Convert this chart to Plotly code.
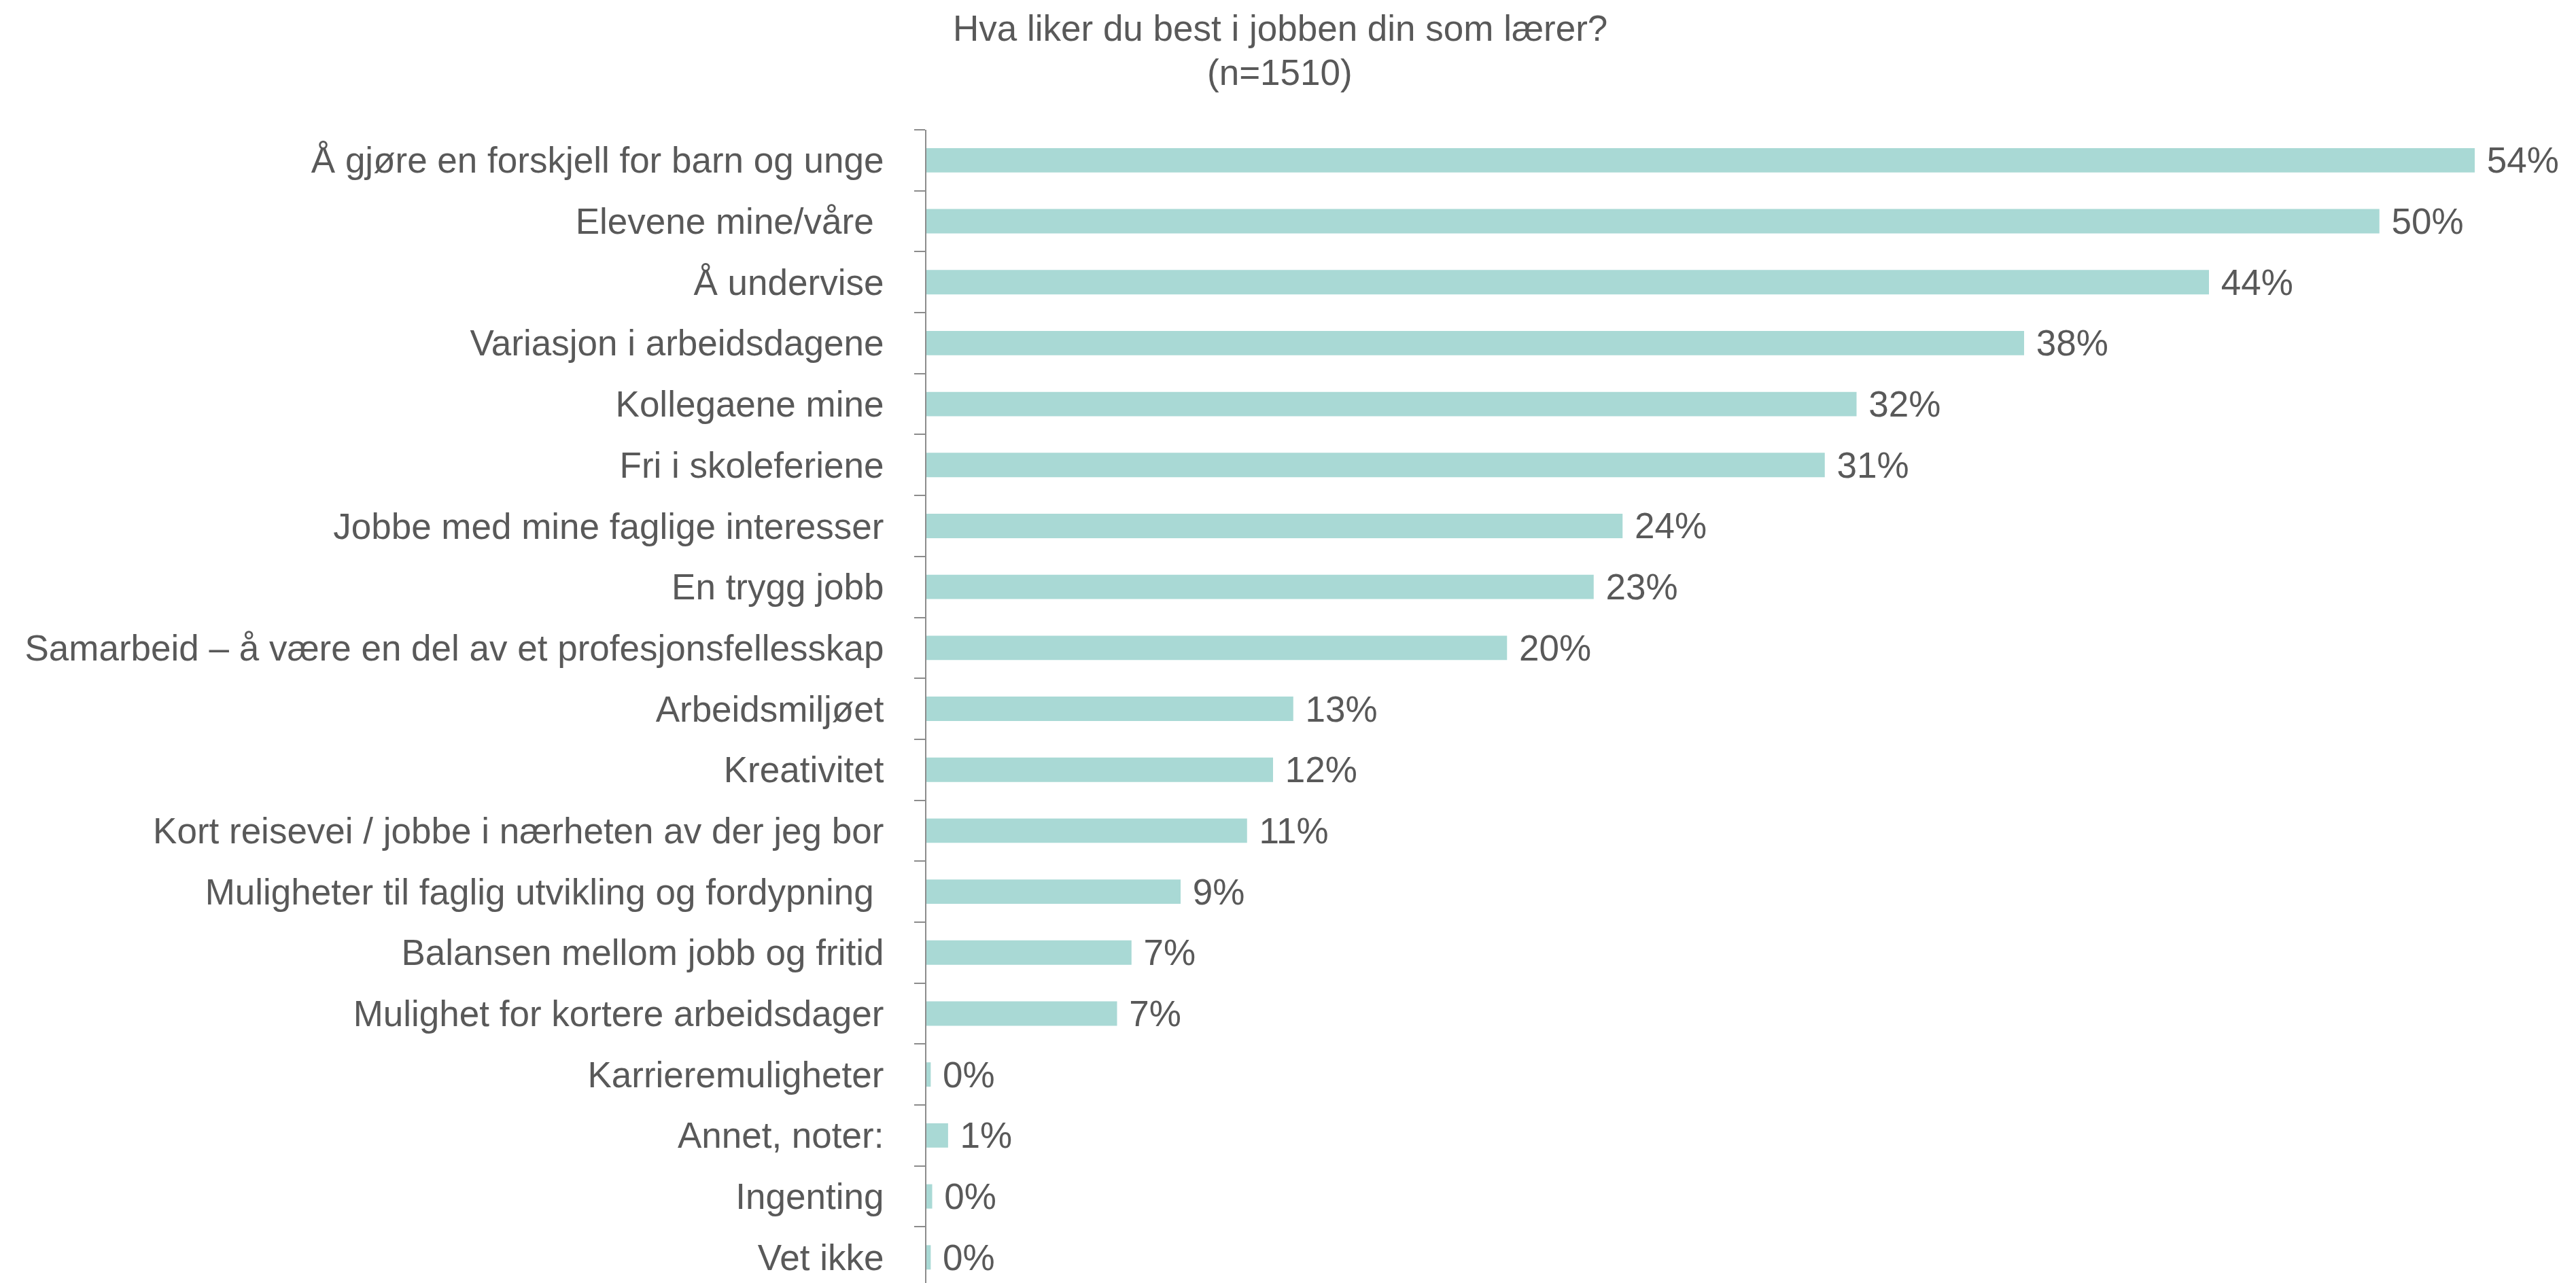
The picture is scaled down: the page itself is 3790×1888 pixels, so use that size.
import plotly.graph_objects as go

categories = [
    "Å gjøre en forskjell for barn og unge",
    "Elevene mine/våre ",
    "Å undervise",
    "Variasjon i arbeidsdagene",
    "Kollegaene mine",
    "Fri i skoleferiene",
    "Jobbe med mine faglige interesser",
    "En trygg jobb",
    "Samarbeid – å være en del av et profesjonsfellesskap",
    "Arbeidsmiljøet",
    "Kreativitet",
    "Kort reisevei / jobbe i nærheten av der jeg bor",
    "Muligheter til faglig utvikling og fordypning ",
    "Balansen mellom jobb og fritid",
    "Mulighet for kortere arbeidsdager",
    "Karrieremuligheter",
    "Annet, noter:",
    "Ingenting",
    "Vet ikke",
]
values = [53.6, 50.3, 44.4, 38.0, 32.2, 31.1, 24.1, 23.1, 20.1, 12.7, 12.0, 11.1,
          8.8, 7.1, 6.6, 0.15, 0.75, 0.2, 0.15]
value_labels = [f" {round(v):.0f}%" for v in values]
title_lines = ["Hva liker du best i jobben din som lærer?", "(n=1510)"]

TEXT = "#595959"
FONT = "Liberation Sans, Arial, sans-serif"
FS = 53

fig = go.Figure(go.Bar(
    x=values,
    y=categories,
    orientation="h",
    width=0.4,
    marker=dict(color="#A9D9D5", line=dict(width=0)),
    text=value_labels,
    textposition="outside",
    constraintext="none",
    textfont=dict(family=FONT, size=FS, color=TEXT),
    cliponaxis=False,
    hoverinfo="skip",
))

W, H = 3790, 1888
L = 1355
T = 183
fig.update_layout(
    width=W, height=H,
    paper_bgcolor="white", plot_bgcolor="white",
    margin=dict(l=L, r=0, t=T, b=0),
    showlegend=False,
    font=dict(family=FONT, size=FS, color=TEXT),
)
title_y = [34, 99]
for line, ty in zip(title_lines, title_y):
    fig.add_annotation(
        text=line, showarrow=False,
        xref="paper", yref="paper",
        x=(1875 - L) / (W - L), xanchor="center",
        y=1 + (T - ty) / (H - T), yanchor="middle",
        font=dict(family=FONT, size=FS, color=TEXT),
    )
fig.update_xaxes(
    range=[0, (W - L) / 42.5],
    visible=False,
)
fig.update_yaxes(
    type="category",
    categoryorder="array", categoryarray=categories,
    range=[18.51, -0.5],
    showline=True, linecolor="#8C8C8C", linewidth=2,
    ticks="outside", tickson="boundaries", ticklen=16, tickcolor="#8C8C8C", tickwidth=2,
    showgrid=False, zeroline=False,
    tickfont=dict(family=FONT, size=FS, color=TEXT),
    ticklabelstandoff=50,
)

fig.write_html("out.html")
